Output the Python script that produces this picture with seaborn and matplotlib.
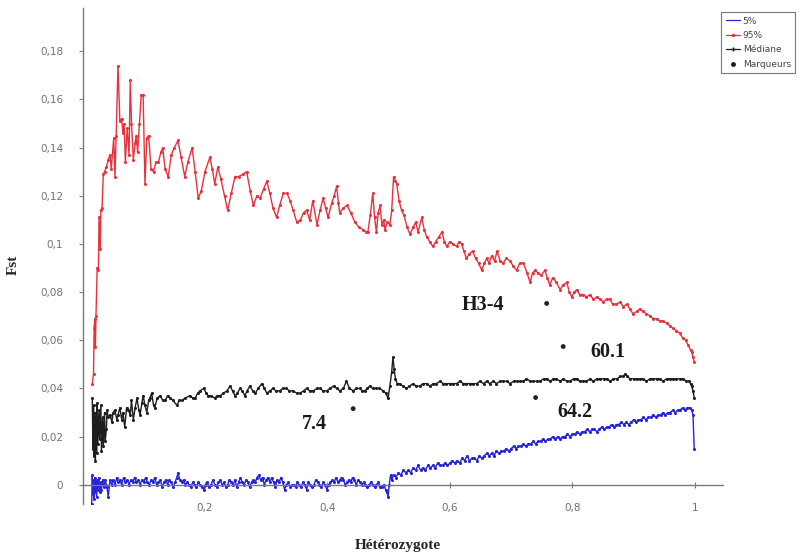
import matplotlib
matplotlib.use("Agg")
import matplotlib.pyplot as plt
import seaborn as sns
from matplotlib.lines import Line2D
from matplotlib.ticker import FixedLocator, FixedFormatter

# ---------------- data ----------------
red_x = [0.016,0.018,0.019,0.020,0.021,0.022,0.024,0.026,0.027,0.029,0.030,0.032,0.034,0.036,0.039,0.042,0.045,0.047,0.049,0.051,
         0.053,0.055,0.058,0.061,0.064,0.066,0.068,0.070,0.073,0.076,0.078,0.080,0.083,0.086,0.088,0.090,0.093,0.096,0.099,0.102,
         0.105,0.108,0.112,0.116,0.120,0.124,0.128,0.131,0.135,0.140,0.145,0.150,0.156,0.161,0.167,0.172,0.179,0.184,0.189,0.194,
         0.200,0.208,0.212,0.216,0.221,0.226,0.232,0.237,0.243,0.249,0.255,0.262,0.268,0.274,0.279,0.285,0.290,0.296,0.301,0.306,
         0.311,0.317,0.322,0.328,0.334,0.339,0.344,0.350,0.356,0.361,0.366,0.371,0.376,0.383,0.388,0.393,0.397,0.401,0.407,0.411,
         0.415,0.418,0.420,0.426,0.432,0.438,0.445,0.451,0.458,0.463,0.466,0.470,0.474,0.477,0.480,0.483,0.486,0.489,0.492,0.494,
         0.498,0.502,0.505,0.508,0.511,0.513,0.517,0.521,0.525,0.530,0.535,0.540,0.544,0.548,0.554,0.558,0.562,0.567,0.572,0.577,
         0.582,0.587,0.591,0.595,0.600,0.605,0.611,0.615,0.619,0.623,0.627,0.632,0.637,0.642,0.647,0.652,0.656,0.660,0.664,0.668,
         0.673,0.677,0.682,0.687,0.692,0.698,0.703,0.709,0.714,0.720,0.726,0.731,0.735,0.739,0.744,0.749,0.755,0.759,0.763,0.768,
         0.774,0.780,0.785,0.791,0.795,0.799,0.803,0.807,0.812,0.818,0.823,0.829,0.834,0.840,0.845,0.850,0.856,0.861,0.866,0.872,
         0.878,0.883,0.889,0.894,0.899,0.905,0.910,0.915,0.921,0.927,0.932,0.938,0.943,0.948,0.954,0.959,0.964,0.970,0.975,0.980,
         0.985,0.989,0.993,0.995,0.997,0.999]
red_y = [0.042,0.046,0.065,0.069,0.057,0.070,0.090,0.089,0.111,0.098,0.114,0.115,0.129,0.130,0.132,0.135,0.137,0.131,0.138,0.144,
         0.128,0.145,0.174,0.151,0.152,0.146,0.150,0.134,0.148,0.137,0.168,0.150,0.135,0.142,0.145,0.138,0.150,0.162,0.162,0.125,
         0.144,0.145,0.131,0.130,0.134,0.134,0.138,0.140,0.131,0.128,0.137,0.140,0.143,0.136,0.128,0.134,0.140,0.130,0.119,0.122,
         0.130,0.136,0.131,0.125,0.132,0.127,0.120,0.114,0.121,0.128,0.128,0.129,0.130,0.122,0.116,0.120,0.119,0.123,0.126,0.121,
         0.115,0.111,0.116,0.121,0.121,0.118,0.114,0.109,0.110,0.113,0.114,0.110,0.118,0.108,0.114,0.119,0.115,0.111,0.117,0.120,
         0.124,0.117,0.113,0.115,0.116,0.113,0.109,0.107,0.106,0.105,0.105,0.112,0.121,0.111,0.105,0.113,0.116,0.108,0.110,0.106,
         0.109,0.108,0.114,0.128,0.126,0.125,0.118,0.114,0.112,0.107,0.104,0.107,0.109,0.105,0.111,0.106,0.103,0.101,0.099,0.101,
         0.103,0.105,0.101,0.099,0.101,0.100,0.099,0.101,0.100,0.097,0.094,0.096,0.097,0.094,0.092,0.089,0.092,0.094,0.092,0.095,
         0.093,0.097,0.093,0.092,0.094,0.093,0.091,0.089,0.092,0.092,0.088,0.084,0.088,0.089,0.088,0.087,0.089,0.086,0.083,0.086,
         0.084,0.081,0.083,0.084,0.080,0.078,0.080,0.081,0.079,0.079,0.078,0.079,0.077,0.078,0.077,0.076,0.077,0.077,0.075,0.075,
         0.076,0.074,0.075,0.073,0.071,0.072,0.073,0.072,0.071,0.070,0.069,0.069,0.068,0.068,0.067,0.066,0.065,0.064,0.063,0.061,
         0.060,0.058,0.056,0.055,0.053,0.051]

med_x = [0.016,0.017,0.018,0.019,0.020,0.021,0.022,0.023,0.024,0.025,0.027,0.028,0.030,0.031,0.033,0.034,0.036,0.037,0.039,0.040,
         0.042,0.045,0.048,0.050,0.053,0.056,0.058,0.061,0.064,0.066,0.069,0.072,0.075,0.078,0.080,0.083,0.086,0.089,0.092,0.094,
         0.097,0.099,0.102,0.105,0.108,0.110,0.113,0.116,0.118,0.122,0.127,0.131,0.135,0.139,0.143,0.148,0.154,0.158,0.162,0.168,
         0.175,0.180,0.184,0.188,0.192,0.198,0.202,0.205,0.210,0.216,0.220,0.225,0.230,0.236,0.241,0.245,0.249,0.253,0.257,0.261,
         0.265,0.269,0.273,0.278,0.282,0.287,0.293,0.297,0.301,0.306,0.311,0.316,0.322,0.327,0.333,0.338,0.344,0.350,0.355,0.361,
         0.366,0.371,0.377,0.383,0.388,0.393,0.399,0.404,0.410,0.415,0.420,0.426,0.431,0.436,0.442,0.447,0.453,0.457,0.461,0.465,
         0.469,0.474,0.480,0.485,0.491,0.495,0.499,0.502,0.505,0.507,0.509,0.511,0.514,0.518,0.523,0.529,0.534,0.540,0.545,0.551,
         0.556,0.562,0.567,0.573,0.578,0.584,0.589,0.594,0.600,0.605,0.611,0.616,0.622,0.627,0.633,0.638,0.644,0.649,0.655,0.660,
         0.665,0.671,0.676,0.682,0.687,0.693,0.698,0.704,0.709,0.715,0.720,0.725,0.731,0.736,0.742,0.747,0.753,0.758,0.764,0.769,
         0.774,0.780,0.785,0.791,0.796,0.802,0.807,0.812,0.818,0.823,0.829,0.834,0.840,0.845,0.851,0.856,0.862,0.867,0.873,0.878,
         0.883,0.886,0.890,0.894,0.900,0.905,0.910,0.916,0.921,0.927,0.932,0.938,0.943,0.948,0.954,0.959,0.965,0.970,0.976,0.981,
         0.986,0.990,0.993,0.995,0.997,0.999]
med_y = [0.036,0.015,0.033,0.012,0.030,0.010,0.028,0.013,0.034,0.017,0.031,0.019,0.033,0.014,0.028,0.016,0.030,0.018,0.023,0.031,
         0.028,0.029,0.026,0.030,0.031,0.027,0.029,0.032,0.027,0.030,0.024,0.032,0.031,0.029,0.035,0.027,0.032,0.036,0.031,0.029,
         0.034,0.037,0.033,0.030,0.035,0.036,0.038,0.033,0.032,0.036,0.037,0.035,0.035,0.037,0.036,0.035,0.033,0.035,0.035,0.036,
         0.037,0.036,0.036,0.038,0.039,0.040,0.038,0.037,0.037,0.036,0.037,0.037,0.038,0.039,0.041,0.039,0.037,0.038,0.040,0.039,
         0.037,0.039,0.041,0.039,0.038,0.040,0.042,0.040,0.038,0.039,0.040,0.039,0.039,0.040,0.040,0.039,0.039,0.038,0.038,0.039,
         0.040,0.039,0.039,0.040,0.040,0.039,0.039,0.040,0.041,0.040,0.039,0.040,0.043,0.040,0.039,0.040,0.040,0.039,0.039,0.040,
         0.041,0.040,0.040,0.040,0.039,0.038,0.036,0.041,0.047,0.053,0.048,0.044,0.042,0.042,0.041,0.040,0.041,0.042,0.041,0.041,
         0.042,0.042,0.041,0.042,0.042,0.043,0.042,0.042,0.042,0.042,0.042,0.043,0.042,0.042,0.042,0.042,0.042,0.043,0.042,0.043,
         0.042,0.043,0.042,0.043,0.043,0.043,0.042,0.043,0.043,0.043,0.043,0.044,0.043,0.043,0.043,0.043,0.044,0.044,0.043,0.044,
         0.044,0.043,0.044,0.043,0.043,0.044,0.044,0.043,0.043,0.043,0.044,0.043,0.044,0.044,0.044,0.044,0.043,0.044,0.044,0.045,
         0.045,0.046,0.045,0.044,0.044,0.044,0.044,0.044,0.043,0.044,0.044,0.044,0.044,0.043,0.044,0.044,0.044,0.044,0.044,0.044,
         0.043,0.043,0.042,0.041,0.039,0.036]

low_x = [0.015,0.016,0.017,0.018,0.019,0.020,0.021,0.022,0.023,0.024,0.025,0.027,0.028,0.030,0.031,0.033,0.035,0.037,0.039,0.040,
         0.042,0.045,0.048,0.050,0.053,0.056,0.058,0.061,0.064,0.067,0.070,0.073,0.076,0.079,0.082,0.085,0.088,0.091,0.094,0.097,
         0.100,0.103,0.106,0.109,0.112,0.115,0.118,0.121,0.124,0.127,0.130,0.133,0.136,0.139,0.142,0.145,0.148,0.151,0.154,0.156,
         0.159,0.162,0.165,0.168,0.171,0.174,0.177,0.180,0.183,0.186,0.189,0.192,0.195,0.198,0.201,0.204,0.207,0.210,0.213,0.216,
         0.219,0.222,0.225,0.228,0.231,0.234,0.237,0.240,0.243,0.246,0.249,0.252,0.255,0.258,0.261,0.264,0.267,0.270,0.273,0.276,
         0.279,0.282,0.285,0.288,0.291,0.294,0.297,0.300,0.303,0.306,0.309,0.312,0.315,0.318,0.321,0.324,0.327,0.330,0.333,0.336,
         0.339,0.342,0.345,0.348,0.351,0.354,0.357,0.360,0.363,0.366,0.369,0.372,0.375,0.378,0.381,0.384,0.387,0.390,0.393,0.396,
         0.399,0.402,0.405,0.408,0.411,0.414,0.417,0.420,0.423,0.426,0.429,0.432,0.435,0.438,0.441,0.444,0.447,0.450,0.453,0.456,
         0.459,0.462,0.465,0.468,0.471,0.474,0.477,0.480,0.483,0.486,0.489,0.492,0.495,0.497,0.499,0.501,0.503,0.505,0.508,0.512,
         0.516,0.520,0.524,0.528,0.532,0.536,0.540,0.544,0.548,0.552,0.556,0.560,0.564,0.568,0.572,0.576,0.580,0.584,0.588,0.592,
         0.596,0.600,0.604,0.608,0.612,0.616,0.620,0.624,0.628,0.632,0.636,0.640,0.644,0.648,0.652,0.656,0.660,0.664,0.668,0.672,
         0.676,0.680,0.684,0.688,0.692,0.696,0.700,0.704,0.708,0.712,0.716,0.720,0.724,0.728,0.732,0.736,0.740,0.744,0.748,0.752,
         0.756,0.760,0.764,0.768,0.772,0.776,0.780,0.784,0.788,0.792,0.796,0.800,0.804,0.808,0.812,0.816,0.820,0.824,0.828,0.832,
         0.836,0.840,0.844,0.848,0.852,0.856,0.860,0.864,0.868,0.872,0.876,0.880,0.884,0.888,0.892,0.896,0.900,0.904,0.908,0.912,
         0.916,0.920,0.924,0.928,0.932,0.936,0.940,0.944,0.948,0.952,0.956,0.960,0.964,0.968,0.972,0.976,0.980,0.984,0.988,0.992,
         0.995,0.997,0.999]
low_y = [-0.008,0.004,-0.004,0.002,-0.006,0.003,-0.003,0.001,-0.005,0.002,-0.002,0.003,-0.003,0.001,-0.002,0.002,-0.001,0.002,0.000,-0.001,
         -0.005,0.002,0.000,0.002,0.000,0.003,0.001,0.002,0.000,0.003,0.001,0.002,0.000,0.002,0.001,0.003,0.001,0.002,0.000,0.002,
         0.001,0.003,0.001,0.000,0.002,0.001,0.003,0.000,0.001,0.002,-0.001,0.001,0.002,0.000,0.002,0.001,-0.001,0.001,0.003,0.005,
         0.002,0.001,0.002,0.000,0.001,0.000,-0.001,0.001,0.000,-0.001,0.001,0.000,-0.001,-0.002,0.000,0.001,-0.001,0.000,0.002,0.000,
         -0.001,0.001,0.002,0.000,0.001,-0.001,0.000,0.002,0.001,0.000,0.002,-0.001,0.001,0.003,0.001,0.000,0.002,0.001,-0.001,0.001,
         0.002,0.001,0.003,0.004,0.002,0.003,0.000,0.002,0.003,0.001,0.003,0.001,-0.001,0.002,0.001,0.003,0.001,-0.002,0.000,0.001,
         -0.001,0.000,0.000,-0.001,0.001,0.000,-0.001,0.001,0.000,-0.002,0.001,0.000,-0.001,0.000,0.002,0.001,0.000,-0.001,0.001,0.000,
         -0.002,0.000,0.001,0.002,0.001,0.003,0.001,0.002,0.003,0.002,0.000,0.001,0.002,0.001,0.003,0.002,0.000,0.002,0.001,0.000,
         0.001,0.000,-0.001,0.000,0.001,0.000,-0.001,0.000,0.001,-0.001,-0.001,0.000,-0.002,-0.003,-0.005,0.000,0.004,0.002,0.004,0.003,
         0.005,0.004,0.006,0.005,0.006,0.005,0.007,0.006,0.008,0.006,0.007,0.006,0.008,0.007,0.008,0.007,0.009,0.008,0.008,0.009,
         0.008,0.009,0.010,0.009,0.010,0.009,0.011,0.010,0.012,0.010,0.011,0.011,0.010,0.012,0.011,0.012,0.013,0.012,0.013,0.012,
         0.014,0.013,0.014,0.014,0.015,0.014,0.015,0.016,0.015,0.016,0.016,0.017,0.016,0.017,0.017,0.018,0.017,0.018,0.018,0.019,
         0.018,0.019,0.019,0.020,0.019,0.020,0.019,0.020,0.020,0.021,0.020,0.021,0.021,0.022,0.021,0.022,0.022,0.023,0.022,0.023,
         0.023,0.022,0.023,0.024,0.023,0.024,0.024,0.025,0.024,0.025,0.025,0.026,0.025,0.026,0.025,0.026,0.027,0.026,0.027,0.027,
         0.028,0.027,0.028,0.028,0.029,0.028,0.029,0.029,0.030,0.029,0.030,0.030,0.031,0.030,0.031,0.031,0.032,0.031,0.032,0.032,
         0.031,0.029,0.015]

mark_x = [0.758, 0.785, 0.740, 0.442]
mark_y = [0.0753, 0.0574, 0.0362, 0.0316]
mark_labels = ["H3-4", "60.1", "64.2", "7.4"]
label_x = [0.654, 0.858, 0.805, 0.379]
label_y = [0.0748, 0.0553, 0.0304, 0.0254]

legend_labels = ["5%", "95%", "Médiane", "Marqueurs"]
xtick_vals = [0.2, 0.4, 0.6, 0.8, 1.0]
xtick_labels = ["0,2", "0,4", "0,6", "0,8", "1"]
ytick_vals = [0, 0.02, 0.04, 0.06, 0.08, 0.10, 0.12, 0.14, 0.16, 0.18]
ytick_labels = ["0", "0,02", "0,04", "0,06", "0,08", "0,1", "0,12", "0,14", "0,16", "0,18"]

# ---------------- plot ----------------
sns.set_style("white")
plt.rcParams["font.family"] = ["DejaVu Sans"]

RED = "#e8313c"
BLUE = "#2424d8"
BLACK = "#1e1e1e"
GRAY = "#7a7a7a"

fig = plt.figure(figsize=(8.01, 5.57), dpi=100)
ax = fig.add_axes([82.5/801, 1-504/557, (723-82.5)/801, (504-8)/557])

sns.lineplot(x=red_x, y=red_y, ax=ax, color=RED, lw=1.0, marker="o", markersize=2.2,
             markeredgewidth=0, sort=False, estimator=None)
sns.lineplot(x=med_x, y=med_y, ax=ax, color=BLACK, lw=1.0, marker="o", markersize=2.2,
             markeredgewidth=0, sort=False, estimator=None)
sns.lineplot(x=low_x, y=low_y, ax=ax, color=BLUE, lw=1.0, marker="o", markersize=2.2,
             markeredgewidth=0, sort=False, estimator=None)
sns.scatterplot(x=mark_x, y=mark_y, ax=ax, color="#222222", s=12, edgecolor="none", zorder=5)

for lx, ly, t in zip(label_x, label_y, mark_labels):
    ax.text(lx, ly, t, ha="center", va="center", fontsize=14.5, fontweight="bold",
            family="Liberation Serif", color="#1a1a1a")

ax.set_xlim(0, 1.046)
ax.set_ylim(-0.008, 0.198)

for s in ["top", "right"]:
    ax.spines[s].set_visible(False)
ax.spines["left"].set_position(("data", 0))
ax.spines["bottom"].set_position(("data", 0))
for s in ["left", "bottom"]:
    ax.spines[s].set_color(GRAY)
    ax.spines[s].set_linewidth(1.0)

ax.xaxis.set_major_locator(FixedLocator(xtick_vals))
ax.xaxis.set_major_formatter(FixedFormatter(xtick_labels))
ax.yaxis.set_major_locator(FixedLocator(ytick_vals))
ax.yaxis.set_major_formatter(FixedFormatter(ytick_labels))
ax.tick_params(axis="x", direction="inout", length=5, width=0.8, color=GRAY,
               labelsize=7.5, labelcolor="#707070", pad=11, bottom=True)
ax.tick_params(axis="y", direction="out", length=3, width=0.8, color=GRAY,
               labelsize=7.5, labelcolor="#707070", pad=11, left=True)
ax.set_xlabel("")
ax.set_ylabel("")

fig.text(0.497, 1-545/557, "Hétérozygote", ha="center", va="center", fontsize=11,
         fontweight="bold", family="Liberation Serif")
fig.text(13/801, 1-265/557, "Fst", ha="center", va="center", rotation=90, fontsize=11,
         fontweight="bold", family="Liberation Serif")

handles = [
    Line2D([], [], color=BLUE, lw=0.9),
    Line2D([], [], color=RED, lw=0.9, marker="o", markersize=1.5),
    Line2D([], [], color=BLACK, lw=0.9, marker="+", markersize=3),
    Line2D([], [], color=BLACK, lw=0, marker="o", markersize=2.5),
]
leg = fig.legend(handles, legend_labels, loc="upper left", bbox_to_anchor=(721/801, 1-12/557),
                 fontsize=6.5, frameon=True, fancybox=False, handlelength=1.6, handletextpad=0.3,
                 labelspacing=0.6, borderpad=0.5, borderaxespad=0)
leg.get_frame().set_edgecolor("#555555")
leg.get_frame().set_linewidth(0.8)
for t in leg.get_texts():
    t.set_color("#444444")

fig.savefig("out.png", dpi=100)
